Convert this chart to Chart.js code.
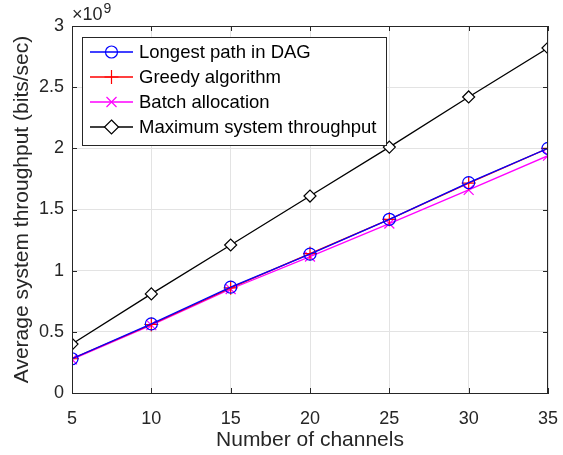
<!DOCTYPE html>
<html lang="en">
<head>
<meta charset="UTF-8">
<title>Average system throughput</title>
<script src="https://cdn.jsdelivr.net/npm/chart.js"></script>
<style>
    html, body { margin: 0; padding: 0; background: #fff; }
    #wrap { width: 563px; height: 455px; }
</style>
</head>
<body>
<div id="wrap"><canvas id="myChart" width="563" height="455"></canvas></div>
<script>
    // values in units of 10^9 bits/sec
    const channels = [5, 10, 15, 20, 25, 30, 35];
    const longestPath = [0.28, 0.565, 0.865, 1.135, 1.42, 1.72, 2.0];
    const greedy = [0.28, 0.56, 0.86, 1.14, 1.42, 1.715, 2.0];
    const batch = [0.275, 0.555, 0.85, 1.115, 1.385, 1.66, 1.94];
    const maxThroughput = [0.40, 0.81, 1.21, 1.61, 2.01, 2.42, 2.82];

    const seriesNames = ['Longest path in DAG', 'Greedy algorithm', 'Batch allocation', 'Maximum system throughput'];
    const fontFam = '"Liberation Sans", Arial, Helvetica, sans-serif';
    const txt = '#262626';

    function pts(ys) {
        return channels.map((c, i) => ({ x: c, y: ys[i] }));
    }

    // marker drawing shared by the legend
    function drawMarker(c, style, x, y, color) {
        c.save();
        c.strokeStyle = color;
        c.lineWidth = 1.2;
        c.beginPath();
        if (style === 'circle') {
            c.arc(x, y, 6, 0, Math.PI * 2);
        } else if (style === 'cross') {
            c.moveTo(x - 7, y); c.lineTo(x + 7, y);
            c.moveTo(x, y - 7); c.lineTo(x, y + 7);
        } else if (style === 'crossRot') {
            c.moveTo(x - 5, y - 5); c.lineTo(x + 5, y + 5);
            c.moveTo(x - 5, y + 5); c.lineTo(x + 5, y - 5);
        } else {
            c.moveTo(x, y - 7); c.lineTo(x + 7, y); c.lineTo(x, y + 7); c.lineTo(x - 7, y); c.closePath();
            c.fillStyle = '#fff';
            c.fill();
        }
        c.stroke();
        c.restore();
    }

    const matlabLook = {
        id: 'matlabLook',
        afterDraw(chart) {
            const c = chart.ctx;
            const a = chart.chartArea;
            c.save();
            // box around axes
            c.strokeStyle = txt;
            c.lineWidth = 1;
            c.strokeRect(a.left + 0.5, a.top + 0.5, a.right - a.left - 1, a.bottom - a.top);

            // inward tick marks
            const xs = chart.scales.x, ys = chart.scales.y;
            c.beginPath();
            channels.forEach(v => {
                const px = Math.round(xs.getPixelForValue(v)) + 0.5;
                c.moveTo(px, a.bottom); c.lineTo(px, a.bottom - 5);
                c.moveTo(px, a.top); c.lineTo(px, a.top + 5);
            });
            for (let v = 0; v <= 3; v += 0.5) {
                const py = Math.round(ys.getPixelForValue(v)) + 0.5;
                c.moveTo(a.left, py); c.lineTo(a.left + 5, py);
                c.moveTo(a.right, py); c.lineTo(a.right - 5, py);
            }
            c.stroke();

            // exponent label
            c.fillStyle = txt;
            c.textBaseline = 'alphabetic';
            c.font = '18px ' + fontFam;
            c.fillText('\u00d710', a.left, a.top - 6);
            const w = c.measureText('\u00d710').width;
            c.font = '14px ' + fontFam;
            c.fillText('9', a.left + w + 1, a.top - 13);

            // legend
            const lx = 82, ly = 37, lw = 304, lh = 108;
            c.fillStyle = '#fff';
            c.fillRect(lx, ly, lw, lh);
            c.strokeStyle = txt;
            c.strokeRect(lx + 0.5, ly + 0.5, lw, lh);
            c.font = '18.5px ' + fontFam;
            c.textBaseline = 'middle';
            chart.data.datasets.forEach((ds, i) => {
                const y = ly + 15 + i * 25;
                c.strokeStyle = ds.borderColor;
                c.lineWidth = 1.3;
                c.beginPath();
                c.moveTo(90, y); c.lineTo(133, y);
                c.stroke();
                drawMarker(c, ds.pointStyle, 111.5, y, ds.borderColor);
                c.fillStyle = '#000';
                c.fillText(ds.label, 139, y + 1);
            });
            c.restore();
        }
    };

    function ds(label, data, color, style, radius, bg) {
        return {
            label: label,
            data: pts(data),
            borderColor: color,
            backgroundColor: bg,
            borderWidth: 1.3,
            pointStyle: style,
            pointRadius: radius,
            pointBorderWidth: 1.2,
            pointBackgroundColor: bg,
            pointBorderColor: color,
            fill: false,
            tension: 0
        };
    }

    new Chart(document.getElementById('myChart'), {
        type: 'line',
        data: {
            datasets: [
                ds(seriesNames[0], longestPath, '#0000ff', 'circle', 6, 'rgba(0,0,0,0)'),
                ds(seriesNames[1], greedy, '#ff0000', 'cross', 7, 'rgba(0,0,0,0)'),
                ds(seriesNames[2], batch, '#ff00ff', 'crossRot', 7, 'rgba(0,0,0,0)'),
                ds(seriesNames[3], maxThroughput, '#000000', 'rectRot', 6, '#ffffff')
            ]
        },
        options: {
            responsive: false,
            animation: false,
            layout: { padding: { left: 0, right: 15, top: 26, bottom: 2 } },
            plugins: {
                legend: { display: false },
                tooltip: { enabled: false }
            },
            scales: {
                x: {
                    type: 'linear',
                    min: 5,
                    max: 35,
                    ticks: {
                        stepSize: 5,
                        color: txt,
                        padding: 15,
                        font: { size: 18, family: fontFam }
                    },
                    grid: { color: '#e3e3e3', drawTicks: false },
                    border: { color: txt },
                    title: {
                        display: true,
                        text: 'Number of channels',
                        color: txt,
                        padding: { top: 0, bottom: 0 },
                        font: { size: 21, family: fontFam }
                    },
                    afterFit(scale) {
                        scale.height = 60;
                        scale.paddingLeft = 0;
                        scale.paddingRight = 0;
                    }
                },
                y: {
                    min: 0,
                    max: 3,
                    ticks: {
                        stepSize: 0.5,
                        color: txt,
                        padding: 8,
                        font: { size: 18, family: fontFam },
                        callback: v => String(+v.toFixed(1))
                    },
                    grid: { color: '#e3e3e3', drawTicks: false },
                    border: { color: txt },
                    title: {
                        display: true,
                        text: 'Average system throughput (bits/sec)',
                        color: txt,
                        padding: { top: 10, bottom: 0 },
                        font: { size: 21, family: fontFam }
                    },
                    afterFit(scale) {
                        scale.width = 72;
                        scale.paddingTop = 0;
                        scale.paddingBottom = 0;
                    }
                }
            }
        },
        plugins: [matlabLook]
    });
</script>
</body>
</html>
